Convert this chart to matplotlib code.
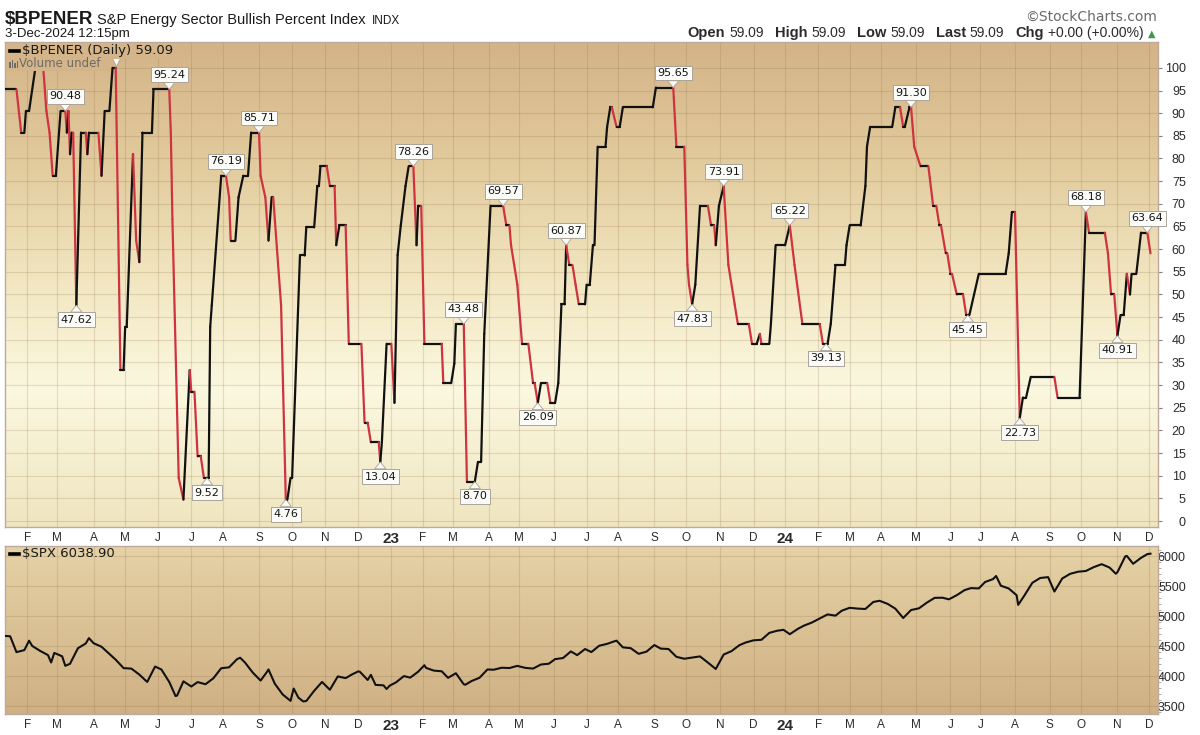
import numpy as np
import pandas as pd
import matplotlib
matplotlib.use("Agg")
import matplotlib.pyplot as plt
from matplotlib.collections import LineCollection
from matplotlib.colors import LinearSegmentedColormap
from matplotlib.lines import Line2D
from matplotlib.patches import Rectangle

# ---------------------------------------------------------------- data
market_holidays = [
    "2022-01-17", "2022-02-21", "2022-04-15", "2022-05-30", "2022-06-20", "2022-07-04",
    "2022-09-05", "2022-11-24", "2022-12-26",
    "2023-01-02", "2023-01-16", "2023-02-20", "2023-04-07", "2023-05-29", "2023-06-19",
    "2023-07-04", "2023-09-04", "2023-11-23", "2023-12-25",
    "2024-01-01", "2024-01-15", "2024-02-19", "2024-03-29", "2024-05-27", "2024-06-19",
    "2024-07-04", "2024-09-02", "2024-11-28",
]
first_session = "2022-01-10"
last_session = "2024-12-03"

# $BPENER line vertices: trading-session number (0 = 10-Jan-2022) and value
bpi_session = [
    0, 8, 11, 13, 14, 16, 20, 25, 27, 29, 31, 33, 36, 39, 40, 41, 42, 43, 44, 46,
    49, 52, 53, 54, 60, 62, 64, 67, 69, 71, 74, 76, 77, 78, 82, 84, 86, 88, 94, 95,
    105, 106, 107, 111, 114, 118, 119, 121, 123, 125, 127, 130, 131, 132, 138, 141,
    143, 144, 147, 149, 152, 155, 157, 162, 163, 166, 168, 170, 171, 176, 179, 180,
    182, 183, 188, 191, 192, 197, 199, 200, 201, 205, 207, 210, 211, 213, 217, 219,
    227, 229, 231, 233, 238, 239, 240, 243, 246, 248, 250, 252, 255, 257, 260, 262,
    263, 265, 267, 278, 279, 284, 286, 287, 292, 294, 299, 301, 303, 305, 309, 317,
    319, 321, 322, 324, 326, 329, 333, 336, 337, 339, 341, 345, 347, 350, 352, 354,
    356, 357, 359, 361, 363, 365, 369, 370, 372, 374, 375, 377, 382, 383, 385, 386,
    389, 391, 393, 412, 414, 425, 427, 432, 434, 435, 437, 439, 442, 447, 449, 451,
    452, 454, 457, 460, 464, 466, 473, 475, 478, 480, 481, 486, 487, 490, 496, 499,
    502, 507, 518, 520, 523, 525, 528, 534, 535, 537, 544, 547, 548, 550, 564, 566,
    569, 571, 572, 575, 576, 578, 582, 587, 590, 592, 594, 595, 598, 599, 601, 602,
    605, 609, 611,
    613, 616, 619, 636, 638, 640, 642, 645, 647, 649, 652, 667, 669, 683, 687, 689,
    699, 701, 703, 705, 707, 709, 711, 713, 715, 716, 719, 722, 726, 728,
]
bpi_value = [
    95.24, 95.24, 85.71, 85.71, 90.48, 90.48, 100.0, 100.0, 90.48, 85.71, 76.19, 76.19,
    90.48, 90.48, 85.71, 90.48, 80.95, 85.71, 85.71, 47.62,
    85.71, 85.71, 80.95, 85.71, 85.71, 76.19, 90.48, 90.48, 100.0, 100.0, 33.33, 33.33,
    42.86, 42.86, 80.95, 61.90, 57.14, 85.71, 85.71, 95.24,
    95.24, 85.71, 66.67, 9.52, 4.76, 33.33, 28.57, 28.57, 14.29, 14.29, 9.52, 9.52,
    42.86, 47.62, 76.19, 76.19,
    71.43, 61.90, 61.90, 71.43, 76.19, 76.19, 85.71, 85.71, 76.19, 71.43, 61.90, 71.43,
    71.43, 47.62, 4.76, 4.76,
    9.52, 9.52, 58.6, 58.6, 64.8, 64.8, 73.9, 73.9, 78.26, 78.26, 73.9, 73.9, 60.87,
    65.22, 65.22, 39.13,
    39.13, 21.74, 21.74, 17.39, 17.39, 13.04, 17.39, 39.13, 39.13, 26.09, 58.7, 65.22,
    73.91, 78.26, 78.26, 60.87,
    69.57, 69.57, 39.13, 39.13, 30.43, 30.43, 34.78, 43.48, 43.48, 8.70, 8.70, 13.04,
    13.04, 41.3, 69.57, 69.57,
    65.22, 65.22, 60.87, 56.52, 52.17, 39.13, 39.13, 30.43, 30.43, 26.09, 30.43, 30.43,
    26.09, 26.09, 30.43, 47.83,
    47.83, 60.87, 56.52, 56.52, 52.17, 47.83, 47.83, 52.17, 52.17, 60.87, 60.87, 82.61,
    82.61, 86.96, 91.30, 91.30,
    86.96, 86.96, 91.30, 91.30, 95.65, 95.65, 82.61, 82.61, 56.52, 52.17, 47.83, 52.17,
    69.57, 69.57, 65.22, 65.22,
    60.87, 69.57, 73.91, 56.52, 47.83, 43.48, 43.48, 39.13, 39.13, 41.3, 39.13, 39.13,
    43.48, 60.87, 60.87, 65.22,
    56.52, 43.48, 43.48, 39.13, 39.13, 43.48, 56.52, 56.52, 60.87, 65.22, 65.22, 73.91,
    82.61, 86.96, 86.96, 91.30,
    91.30, 86.96, 86.96, 91.30, 91.30, 82.61, 78.26, 78.26, 69.57, 69.57, 65.22, 65.22,
    59.09, 59.09, 54.55, 54.55,
    50.0, 50.0, 45.45,
    45.45, 50.0, 54.55, 54.55, 59.09, 68.18, 68.18, 22.73, 27.27, 27.27, 31.82, 31.82,
    27.27, 27.27, 68.18, 63.64,
    63.64, 59.09, 50.0, 50.0, 40.91, 45.45, 45.45, 54.55, 50.0, 54.55, 54.55, 63.64,
    63.64, 59.09,
]

# labelled turning points (the 100.00 label is hidden behind the legend in the original,
# only its pointer shows)
label_session = [39, 46, 105, 129, 141, 162, 179, 239, 260, 292, 299, 317, 339, 357,
                 425, 437, 457, 499, 522, 576, 612, 645, 687, 707, 726]
label_value = [90.48, 47.62, 95.24, 9.52, 76.19, 85.71, 4.76, 13.04, 78.26, 43.48,
               8.70, 69.57, 26.09, 60.87, 95.65, 47.83, 73.91, 65.22, 39.13, 91.30, 45.45,
               22.73, 68.18, 40.91, 63.64]
label_side = ["peak", "trough", "peak", "trough", "peak", "peak", "trough", "trough",
              "peak", "peak", "trough", "peak", "trough", "peak", "peak", "trough", "peak",
              "peak", "trough", "peak", "trough", "trough", "peak", "trough", "peak"]
hidden_peak_session = 71
hidden_peak_value = 100.0

# $SPX closes (weekly plus notable turning days)
spx_date = [
    "2022-01-10", "2022-01-14", "2022-01-21", "2022-01-28", "2022-02-02", "2022-02-04",
    "2022-02-11", "2022-02-18", "2022-02-23", "2022-02-25", "2022-03-04", "2022-03-08",
    "2022-03-11", "2022-03-18", "2022-03-25", "2022-03-29", "2022-04-01", "2022-04-08",
    "2022-04-14", "2022-04-22", "2022-04-29", "2022-05-06", "2022-05-13", "2022-05-20",
    "2022-05-27", "2022-06-03", "2022-06-10", "2022-06-16", "2022-06-17", "2022-06-24",
    "2022-07-01", "2022-07-08", "2022-07-15", "2022-07-22", "2022-07-29", "2022-08-05",
    "2022-08-12", "2022-08-16", "2022-08-19", "2022-08-26", "2022-09-02", "2022-09-09",
    "2022-09-12", "2022-09-16", "2022-09-23", "2022-09-30", "2022-10-04", "2022-10-07",
    "2022-10-12", "2022-10-14", "2022-10-21", "2022-10-28", "2022-11-04", "2022-11-11",
    "2022-11-18", "2022-11-25", "2022-12-01", "2022-12-02", "2022-12-09", "2022-12-13",
    "2022-12-16", "2022-12-23", "2022-12-28", "2022-12-30",
    "2023-01-06", "2023-01-13", "2023-01-20", "2023-01-27", "2023-02-02", "2023-02-03",
    "2023-02-10", "2023-02-17", "2023-02-24", "2023-03-03", "2023-03-10", "2023-03-13",
    "2023-03-17", "2023-03-24", "2023-03-31", "2023-04-06", "2023-04-14", "2023-04-21",
    "2023-04-28", "2023-05-05", "2023-05-12", "2023-05-19", "2023-05-26", "2023-06-02",
    "2023-06-09", "2023-06-16", "2023-06-23", "2023-06-30", "2023-07-07", "2023-07-14",
    "2023-07-21", "2023-07-28", "2023-07-31", "2023-08-04", "2023-08-11", "2023-08-18",
    "2023-08-25", "2023-09-01", "2023-09-08", "2023-09-15", "2023-09-22", "2023-09-29",
    "2023-10-06", "2023-10-13", "2023-10-20", "2023-10-27", "2023-11-03", "2023-11-10",
    "2023-11-17", "2023-11-24", "2023-12-01", "2023-12-08", "2023-12-15", "2023-12-22",
    "2023-12-29",
    "2024-01-05", "2024-01-12", "2024-01-19", "2024-01-26", "2024-02-02", "2024-02-09",
    "2024-02-16", "2024-02-23", "2024-03-01", "2024-03-08", "2024-03-15", "2024-03-22",
    "2024-03-28", "2024-04-05", "2024-04-12", "2024-04-19", "2024-04-26", "2024-05-03",
    "2024-05-10", "2024-05-17", "2024-05-24", "2024-05-31", "2024-06-07", "2024-06-14",
    "2024-06-21", "2024-06-28", "2024-07-05", "2024-07-12", "2024-07-16", "2024-07-19",
    "2024-07-26", "2024-08-02", "2024-08-05", "2024-08-09", "2024-08-16", "2024-08-23",
    "2024-08-30", "2024-09-06", "2024-09-13", "2024-09-20", "2024-09-27", "2024-10-04",
    "2024-10-11", "2024-10-18", "2024-10-25", "2024-10-31", "2024-11-01", "2024-11-08",
    "2024-11-11", "2024-11-15", "2024-11-22", "2024-11-29", "2024-12-03",
]
spx_close = [
    4670, 4662, 4398, 4432, 4589, 4501, 4419, 4349, 4225, 4385, 4329, 4170,
    4204, 4463, 4543, 4632, 4546, 4488, 4393, 4272, 4132, 4123, 4024, 3901,
    4158, 4109, 3901, 3666, 3675, 3912, 3825, 3899, 3863, 3962, 4130, 4145,
    4280, 4305, 4228, 4058, 3924, 4067, 4110, 3873, 3693, 3586, 3791, 3640,
    3577, 3583, 3753, 3901, 3771, 3993, 3965, 4026, 4077, 4072, 3934, 4020,
    3852, 3845, 3783, 3840,
    3895, 3999, 3973, 4071, 4180, 4136, 4090, 4079, 3970, 4046, 3862, 3855,
    3917, 3971, 4109, 4105, 4138, 4133, 4169, 4136, 4124, 4192, 4205, 4282,
    4299, 4410, 4348, 4450, 4399, 4505, 4536, 4582, 4589, 4478, 4464, 4370,
    4406, 4516, 4457, 4450, 4320, 4288, 4308, 4327, 4224, 4117, 4358, 4415,
    4514, 4559, 4595, 4604, 4719, 4755, 4770,
    4697, 4784, 4840, 4891, 4959, 5027, 5006, 5089, 5137, 5124, 5117, 5234,
    5254, 5204, 5123, 4967, 5100, 5128, 5223, 5303, 5305, 5278, 5347, 5432,
    5465, 5460, 5567, 5615, 5667, 5505, 5459, 5347, 5186, 5344, 5554, 5634,
    5648, 5408, 5626, 5703, 5738, 5751, 5815, 5864, 5808, 5705, 5729, 5995,
    6001, 5871, 5969, 6032, 6038.90,
]

bpi_last = 59.09
spx_last = 6038.90

# ---------------------------------------------------------------- style
W, H = 1200, 735
RED = "#cf3340"
BLACK = "#111111"
SPINE = "#bda99e"
GRID_C = "#8b6a45"
GRID_A = 0.2
TXT = "#2b2b2b"
TOP_BG = [(0.0, "#d3b387"), (0.25, "#e2cb9d"), (0.5, "#f2e7c2"), (0.72, "#fbf8e0"), (1.0, "#efe5bf")]
BOT_BG = [(0.0, "#e5d2a6"), (1.0, "#cfb083")]
LABEL_FONT = "Liberation Sans"


def fx(px):
    return px / W


def fy(py):
    return 1 - py / H


def gradient(ax, stops):
    cmap = LinearSegmentedColormap.from_list("bg", stops)
    grad = np.linspace(0, 1, 256).reshape(-1, 1)
    ax.imshow(grad, cmap=cmap, aspect="auto", extent=[0, 1, 0, 1], transform=ax.transAxes,
              origin="upper", zorder=-5, interpolation="bilinear")


# trading calendar
sessions = pd.bdate_range(first_session, last_session)
sessions = sessions[~sessions.isin(pd.to_datetime(market_holidays))]
per = sessions.to_period("M")
month_first = np.flatnonzero(np.r_[False, per[1:] != per[:-1]])
month_labels = [str(sessions[i].year)[2:] if sessions[i].month == 1 else sessions[i].strftime("%b")[0]
                for i in month_first]
month_bold = [sessions[i].month == 1 for i in month_first]

x_left = (5 - 3.875) / 1.575
x_right = (1158 - 3.875) / 1.575

fig = plt.figure(figsize=(W / 100, H / 100), dpi=100, facecolor="white")
ax1 = fig.add_axes([fx(5), fy(527), fx(1158) - fx(5), (527 - 42) / H])
ax2 = fig.add_axes([fx(5), fy(714), fx(1158) - fx(5), (714 - 546) / H])

for ax, stops in ((ax1, TOP_BG), (ax2, BOT_BG)):
    gradient(ax, stops)
    ax.set_axisbelow(True)
    for sp in ax.spines.values():
        sp.set_color(SPINE)
        sp.set_linewidth(1.0)
    ax.yaxis.tick_right()
    ax.set_xticks(month_first)
    ax.set_xticklabels(month_labels)
    for lab, b in zip(ax.get_xticklabels(), month_bold):
        lab.set_fontfamily(LABEL_FONT)
        lab.set_color(TXT)
        if b:
            lab.set_fontweight("bold")
            lab.set_fontsize(11)
        else:
            lab.set_fontsize(8.5)
    ax.tick_params(axis="x", length=0, pad=3.5)
    ax.tick_params(axis="y", which="major", length=3, color="#8a7f78", pad=17,
                   labelsize=9, labelcolor=TXT)
    ax.tick_params(axis="y", which="minor", length=2, color="#a89c94")
    ax.grid(True, which="major", color=GRID_C, alpha=GRID_A, linewidth=0.8)

# ---------------------------------------------------------------- top panel
s = np.asarray(bpi_session, float)
v = np.asarray(bpi_value, float)
pts = np.column_stack([s, v])
segs = np.stack([pts[:-1], pts[1:]], axis=1)
cols = [RED if d < 0 else BLACK for d in np.diff(v)]
lc = LineCollection(segs, colors=cols, linewidths=1.6, capstyle="round", joinstyle="round", zorder=3)
ax1.add_collection(lc)

for ls, lv, side in zip(label_session, label_value, label_side):
    off = 10.5 if side == "peak" else -10.5
    ax1.annotate(f"{lv:.2f}", xy=(ls, lv), xytext=(0, off), textcoords="offset points",
                 ha="center", va="center", fontsize=8, family="DejaVu Sans", color="#151515",
                 bbox=dict(boxstyle="square,pad=0.22", fc="#fbfbf8", ec="#a9a39b", lw=0.7),
                 arrowprops=dict(arrowstyle="wedge,tail_width=1.0,shrink_factor=0.5",
                                 fc="#fbfbf8", ec="#a9a39b", lw=0.6, shrinkA=0, shrinkB=0),
                 zorder=6)
# pointer of the label hidden behind the legend
ax1.plot([hidden_peak_session], [hidden_peak_value + 1.6], marker="v", ms=7, mfc="#fbfbf8",
         mec="#a9a39b", mew=0.6, ls="none", zorder=6)

ax1.set_xlim(x_left, x_right)
ax1.set_ylim(-1.3, 105.7)
ax1.set_yticks(np.arange(0, 101, 5))
for lab in ax1.get_yticklabels():
    lab.set_horizontalalignment("right")
    lab.set_fontfamily(LABEL_FONT)

# legend of the top panel (covers the line like the original)
leg_bg = "#d4b58a"
fig.add_artist(Rectangle((fx(6), fy(71)), fx(110) - fx(6), (71 - 57) / H, transform=fig.transFigure,
                         fc=leg_bg, ec="none", zorder=7))
fig.add_artist(Rectangle((fx(6), fy(58.5)), fx(170) - fx(6), (58.5 - 43) / H, transform=fig.transFigure,
                         fc=leg_bg, ec="none", zorder=7))
fig.add_artist(Line2D([fx(10), fx(19)], [fy(50.5), fy(50.5)], transform=fig.transFigure,
                      color="black", lw=2.6, zorder=8))
fig.text(fx(22), fy(50.5), f"$BPENER (Daily) {bpi_last:.2f}", ha="left", va="center",
         fontsize=9.5, family="DejaVu Sans", color="#1a1a1a", zorder=8, parse_math=False)
for bx, bh in ((9, 6), (11.5, 8), (14, 5), (16.5, 7)):
    fig.add_artist(Rectangle((fx(bx), fy(68)), 1.6 / W, bh / H, transform=fig.transFigure,
                             fc="#6f6a66", ec="none", zorder=8))
fig.text(fx(19), fy(63.5), "Volume undef", ha="left", va="center", fontsize=8.5,
         family="DejaVu Sans", color="#6f6a66", zorder=8)

# ---------------------------------------------------------------- bottom panel
spx_pos = np.searchsorted(sessions.values, pd.to_datetime(spx_date).values)
ax2.plot(spx_pos, spx_close, color=BLACK, lw=1.5, zorder=3, solid_joinstyle="round")
ax2.set_xlim(x_left, x_right)
ax2.set_ylim(3367, 6167)
ax2.set_yticks(np.arange(3500, 6001, 500))
ax2.set_yticks(np.arange(3400, 6101, 100), minor=True)
ax2.grid(False, which="minor")
for lab in ax2.get_yticklabels():
    lab.set_horizontalalignment("right")
    lab.set_fontfamily(LABEL_FONT)
fig.add_artist(Line2D([fx(10), fx(19)], [fy(553.5), fy(553.5)], transform=fig.transFigure,
                      color="black", lw=2.6, zorder=8))
fig.text(fx(22), fy(553.5), f"$SPX {spx_last:.2f}", ha="left", va="center",
         fontsize=9.5, family="DejaVu Sans", color="#1a1a1a", zorder=8, parse_math=False)

# ---------------------------------------------------------------- header
t = fig.text(fx(5), fy(24), "$BPENER", ha="left", va="baseline", fontsize=13.5,
             fontweight="bold", family=LABEL_FONT, color="#1a1a1a", parse_math=False)
fig.canvas.draw()
r = fig.canvas.get_renderer()
xr = t.get_window_extent(r).x1 + 4
t2 = fig.text(xr / W, fy(24), "S&P Energy Sector Bullish Percent Index", ha="left", va="baseline",
              fontsize=10.5, family=LABEL_FONT, color="#1a1a1a")
xr = t2.get_window_extent(r).x1 + 6
fig.text(xr / W, fy(24), "INDX", ha="left", va="baseline", fontsize=8.5, family=LABEL_FONT,
         color="#1a1a1a")
fig.text(fx(5), fy(37), "3-Dec-2024 12:15pm", ha="left", va="baseline", fontsize=9.5,
         family=LABEL_FONT, color="#1a1a1a")
fig.text(fx(1157), fy(21), "\u00a9StockCharts.com", ha="right", va="baseline", fontsize=10,
         family="DejaVu Sans", color="#6a6a6a")

pieces = [("Open", "bold", TXT, 10.5, 4), (f"{bpi_last:.2f}", "normal", TXT, 10, 11),
          ("High", "bold", TXT, 10.5, 4), (f"{bpi_last:.2f}", "normal", TXT, 10, 11),
          ("Low", "bold", TXT, 10.5, 4), (f"{bpi_last:.2f}", "normal", TXT, 10, 11),
          ("Last", "bold", TXT, 10.5, 4), (f"{bpi_last:.2f}", "normal", TXT, 10, 11),
          ("Chg", "bold", TXT, 10.5, 4), ("+0.00 (+0.00%)", "normal", TXT, 10, 4),
          ("\u25b2", "normal", "#3a9a48", 7, 0)]
xcur = 1155
for txt, wt, col, fs, gap in reversed(pieces):
    xcur -= gap
    fam = "DejaVu Sans" if txt == "\u25b2" else LABEL_FONT
    tt = fig.text(xcur / W, fy(37), txt, ha="right", va="baseline", fontsize=fs, fontweight=wt,
                  family=fam, color=col)
    xcur -= tt.get_window_extent(r).width

fig.savefig("out.png", dpi=100, facecolor="white")
